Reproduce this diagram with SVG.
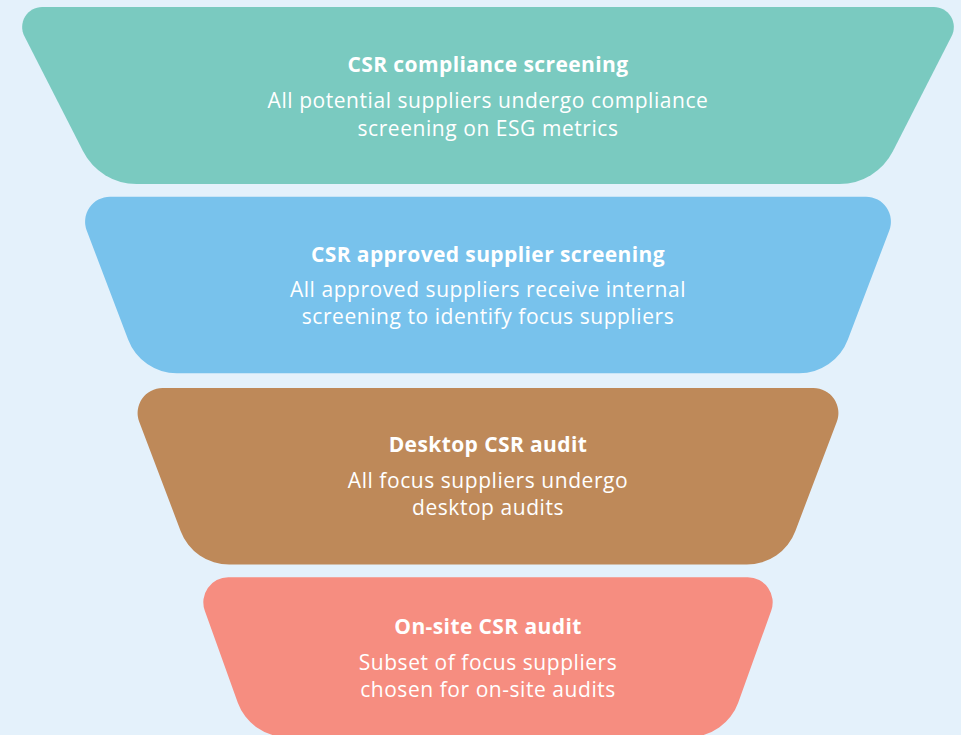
<svg xmlns="http://www.w3.org/2000/svg" width="961" height="735" viewBox="0 0 961 735">
  <style>
    .title { font-family: "Open Sans", "Liberation Sans", sans-serif; font-weight: 700; font-size: 21px; letter-spacing: 0.4px; fill: #ffffff; text-anchor: middle; }
    .body { font-family: "Open Sans", "Liberation Sans", sans-serif; font-weight: 400; font-size: 21px; letter-spacing: 0.55px; fill: #ffffff; text-anchor: middle; }
  </style>
  <!-- page background -->
  <rect x="0" y="0" width="961" height="735" fill="#E4F1FB"/>

  <!-- funnel stages, widest at the top -->
  <g id="stage-compliance-screening">
    <path fill="#7ACAC0" d="M42.1 7 H933.9 A20 20 0 0 1 951.7 36 L892.9 151.3 A60 60 0 0 1 839.5 184 H136.5 A60 60 0 0 1 83.1 151.3 L24.3 36 A20 20 0 0 1 42.1 7 Z"/>
    <text class="title" x="488" y="72">CSR compliance screening</text>
    <text class="body" x="488" y="108">All potential suppliers undergo compliance</text>
    <text class="body" x="488" y="135.5">screening on ESG metrics</text>
  </g>

  <g id="stage-approved-supplier-screening">
    <path fill="#78C2EC" d="M110 196.7 H866 A25 25 0 0 1 889.3 230.5 L847.9 339.6 A52 52 0 0 1 799 373.3 H177 A52 52 0 0 1 128.1 339.6 L86.7 230.5 A25 25 0 0 1 110 196.7 Z"/>
    <text class="title" x="488" y="261.5">CSR approved supplier screening</text>
    <text class="body" x="488" y="296.5">All approved suppliers receive internal</text>
    <text class="body" x="488" y="323.5">screening to identify focus suppliers</text>
  </g>

  <g id="stage-desktop-audit">
    <path fill="#BE8959" d="M162.5 388 H813.5 A25 25 0 0 1 836.8 421.8 L795.4 530.9 A52 52 0 0 1 746.5 564.6 H229.5 A52 52 0 0 1 180.6 530.9 L139.2 421.8 A25 25 0 0 1 162.5 388 Z"/>
    <text class="title" x="488" y="451.5">Desktop CSR audit</text>
    <text class="body" x="488" y="488">All focus suppliers undergo</text>
    <text class="body" x="488" y="515">desktop audits</text>
  </g>

  <g id="stage-onsite-audit">
    <path fill="#F68D80" d="M228.3 577.3 H747.7 A25 25 0 0 1 771.2 610.8 L738.2 702.7 A52 52 0 0 1 689.3 737 H286.7 A52 52 0 0 1 237.8 702.7 L204.8 610.8 A25 25 0 0 1 228.3 577.3 Z"/>
    <text class="title" x="488" y="634">On-site CSR audit</text>
    <text class="body" x="488" y="670">Subset of focus suppliers</text>
    <text class="body" x="488" y="697">chosen for on-site audits</text>
  </g>

  <!-- stages touch nothing: no connectors are drawn -->
  <g id="connectors"></g>
</svg>
